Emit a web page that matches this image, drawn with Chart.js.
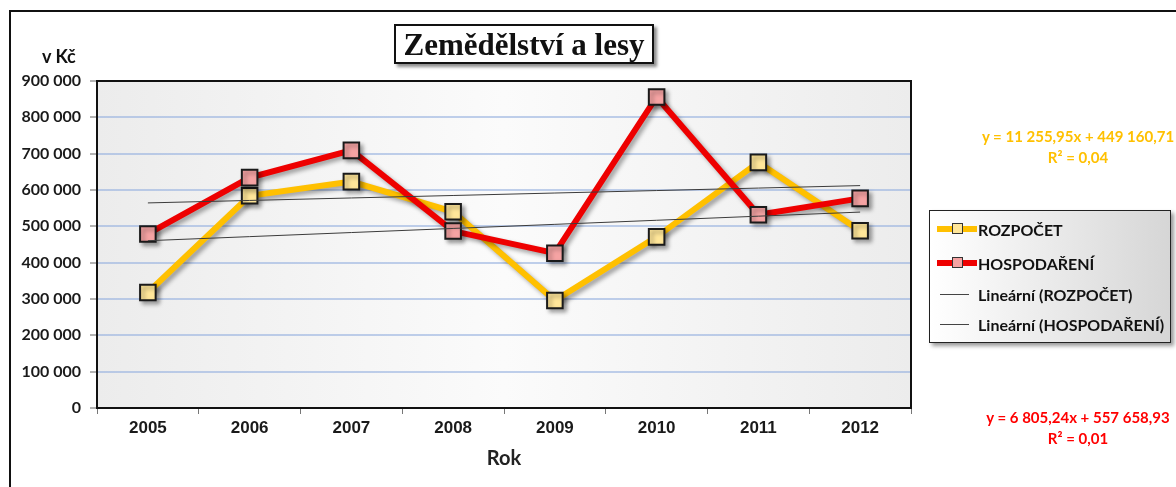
<!DOCTYPE html>
<html lang="cs">
<head>
<meta charset="utf-8">
<title>Zemědělství a lesy</title>
<script src="https://cdn.jsdelivr.net/npm/chart.js@4.4.1/dist/chart.umd.min.js"></script>
<style>
  html, body { margin: 0; padding: 0; background: #fff; overflow: hidden; }
  #wrap { position: relative; width: 1176px; height: 487px; }
  #frame { position: absolute; left: 9px; top: 10px; width: 1300px; height: 600px;
           border-left: 2px solid #111; border-top: 2px solid #111; }
  canvas { position: absolute; left: 0; top: 0; }
  .title { position: absolute; left: 394px; top: 24px; width: 256px; height: 36px;
           border: 2px solid #111; background: #fff; box-shadow: 3px 3px 3px rgba(0,0,0,0.45);
           font: bold 31px "Liberation Serif", serif; color: #111; text-align: center; line-height: 37px; }
  .ylabel { position: absolute; left: 42px; top: 45px; font: bold 18px Lato, sans-serif; color: #111; }
  .eq { position: absolute; width: 240px; left: 958px; text-align: center;
        font: bold 15px Lato, sans-serif; line-height: 21px; }
  #legend { position: absolute; left: 929px; top: 210px; width: 240px; height: 131px;
            border: 1.5px solid #222; background: linear-gradient(to right, #ffffff, #d6d6d6);
            box-shadow: 3px 3px 4px rgba(0,0,0,0.4); }
  .item { position: absolute; left: 0; height: 20px; display: flex; align-items: center;
          font: bold 16px Lato, sans-serif; color: #111; white-space: nowrap; }
  .swatch { position: relative; width: 40px; height: 20px; margin-left: 7px; margin-right: 1px; }
  .swatch .ln { position: absolute; left: 0; right: 0; top: 7px; height: 6px; }
  .swatch .mk { position: absolute; left: 15px; top: 4px; width: 9px; height: 9px; border: 1.5px solid #333; }
  .swatch .thin { position: absolute; left: 3px; width: 29px; top: 10px; height: 1px; background: #444; }
</style>
</head>
<body>
<div id="wrap">
  <div id="frame"></div>
  <canvas id="myChart" width="1176" height="487"></canvas>
  <div class="title">Zemědělství a lesy</div>
  <div class="ylabel">v Kč</div>
  <div class="eq" style="top:126px; color:#FFC000;">y = 11 255,95x + 449 160,71<br>R² = 0,04</div>
  <div class="eq" style="top:407px; color:#FF0000;">y = 6 805,24x + 557 658,93<br>R² = 0,01</div>
  <div id="legend"></div>
</div>
<script>
const years = ['2005', '2006', '2007', '2008', '2009', '2010', '2011', '2012'];
const rozpocet = [318000, 584000, 623000, 540000, 296000, 471000, 676000, 488000];
const hospodareni = [479000, 634000, 709000, 487000, 426000, 856000, 532000, 577000];

// linear trend coefficients (x = 1 .. 8)
const trendSlope = [11255.95, 6805.24];
const trendIntercept = [449160.71, 557658.93];

const yTicks = [0, 100000, 200000, 300000, 400000, 500000, 600000, 700000, 800000, 900000];

const yellow = '#FFC000';
const yellowFill = '#FFE699';
const red = '#EE0000';
const redFill = '#F5A3A3';
const trendColor = '#3c3c3c';

function trend(k) {
    return years.map((y, i) => trendSlope[k] * (i + 1) + trendIntercept[k]);
}

function fmt(v) {
    return String(v).replace(/\B(?=(\d{3})+(?!\d))/g, ' ');
}

const data = {
    labels: years,
    datasets: [{
        label: 'ROZPOČET',
        data: rozpocet,
        borderColor: yellow,
        backgroundColor: yellowFill,
        borderWidth: 6,
        pointStyle: 'rect',
        pointRadius: 11,
        pointBorderWidth: 2,
        pointBorderColor: '#1a1a1a',
        pointBackgroundColor: yellowFill,
        order: 2
    },
    {
        label: 'HOSPODAŘENÍ',
        data: hospodareni,
        borderColor: red,
        backgroundColor: redFill,
        borderWidth: 6,
        pointStyle: 'rect',
        pointRadius: 11,
        pointBorderWidth: 2,
        pointBorderColor: '#1a1a1a',
        pointBackgroundColor: redFill,
        order: 1
    },
    {
        label: 'Lineární (ROZPOČET)',
        data: trend(0),
        borderColor: trendColor,
        borderWidth: 1,
        pointRadius: 0,
        order: 0
    },
    {
        label: 'Lineární (HOSPODAŘENÍ)',
        data: trend(1),
        borderColor: trendColor,
        borderWidth: 1,
        pointRadius: 0,
        order: 0
    }]
};

// plot area gradient, frame and soft shadows under the two main series
const plotDecor = {
    id: 'plotDecor',
    beforeDraw(chart) {
        const {ctx, chartArea: a} = chart;
        const g = ctx.createLinearGradient(a.left, 0, a.right, 0);
        g.addColorStop(0, '#ececec');
        g.addColorStop(0.5, '#fbfbfb');
        g.addColorStop(1, '#ececec');
        ctx.save();
        ctx.fillStyle = g;
        ctx.fillRect(a.left, a.top, a.right - a.left, a.bottom - a.top);
        ctx.restore();
    },
    beforeDatasetsDraw(chart) {
        const {ctx, chartArea: a} = chart;
        ctx.save();
        ctx.strokeStyle = '#111';
        ctx.lineWidth = 2;
        ctx.strokeRect(a.left, a.top, a.right - a.left, a.bottom - a.top);
        ctx.restore();
    },
    beforeDatasetDraw(chart, args) {
        if (args.index > 1) return;
        const ctx = chart.ctx;
        ctx.save();
        ctx.shadowColor = 'rgba(0,0,0,0.35)';
        ctx.shadowBlur = 4;
        ctx.shadowOffsetX = 3;
        ctx.shadowOffsetY = 3;
    },
    afterDatasetDraw(chart, args) {
        if (args.index > 1) return;
        chart.ctx.restore();
    }
};

const config = {
    type: 'line',
    data: data,
    options: {
        responsive: false,
        animation: false,
        layout: { padding: { left: 0, top: 81, right: 265, bottom: 0 } },
        plugins: {
            legend: { display: false },
            tooltip: { enabled: false }
        },
        scales: {
            x: {
                offset: true,
                afterFit(scale) { scale.height = 79; },
                grid: { offset: true, drawOnChartArea: false, tickLength: 6, tickColor: '#777' },
                border: { color: '#111', width: 2 },
                ticks: { color: '#1a1a1a', padding: 4, font: { family: 'Liberation Sans', size: 17, weight: 'bold' } },
                title: { display: true, text: 'Rok', color: '#222', padding: { top: 0, bottom: 16 },
                         font: { family: 'Lato', size: 20, weight: 'bold' } }
            },
            y: {
                min: 0,
                max: 900000,
                afterFit(scale) { scale.width = 97; },
                afterBuildTicks(scale) { scale.ticks = yTicks.map(v => ({ value: v })); },
                grid: { color: 'rgba(150,176,224,0.6)', lineWidth: 2, tickLength: 7, tickColor: '#666', tickWidth: 1 },
                border: { color: '#111', width: 2 },
                ticks: { color: '#1a1a1a', padding: 9, callback: v => fmt(v),
                         font: { family: 'Lato', size: 16, weight: 'bold' } }
            }
        }
    },
    plugins: [plotDecor]
};

const myChart = new Chart(document.getElementById('myChart'), config);

// legend box built from the dataset styles
const legend = document.getElementById('legend');
const rowsTop = [8, 42, 73, 103];
data.datasets.forEach((ds, i) => {
    const item = document.createElement('div');
    item.className = 'item';
    item.style.top = rowsTop[i] + 'px';
    const sw = document.createElement('div');
    sw.className = 'swatch';
    if (i < 2) {
        sw.innerHTML = '<div class="ln" style="background:' + ds.borderColor + '"></div>' +
            '<div class="mk" style="background:' + ds.pointBackgroundColor + '"></div>';
    } else {
        sw.innerHTML = '<div class="thin"></div>';
    }
    item.appendChild(sw);
    const txt = document.createElement('span');
    txt.textContent = ds.label;
    item.appendChild(txt);
    legend.appendChild(item);
});
</script>
</body>
</html>
